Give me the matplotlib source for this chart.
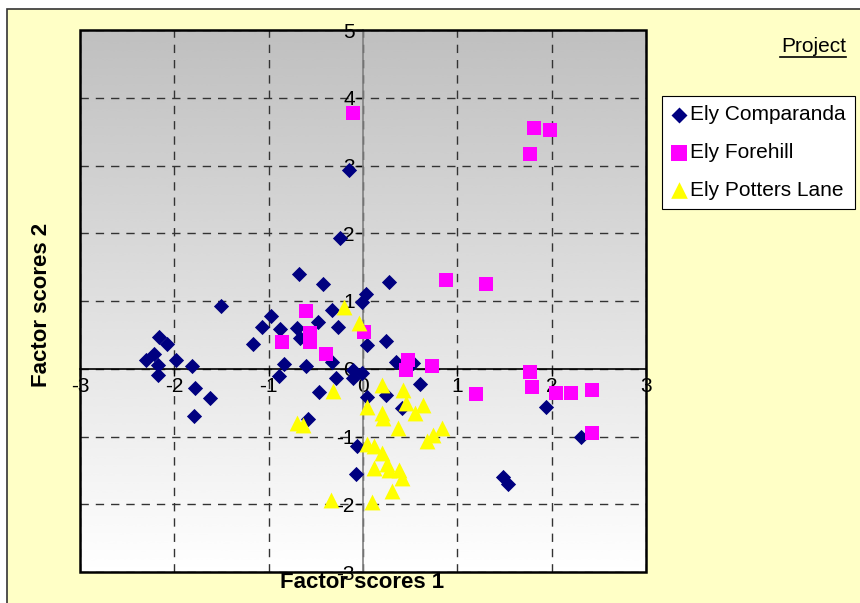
import numpy as np
import matplotlib
matplotlib.use("Agg")
import matplotlib.pyplot as plt
from matplotlib.patches import Rectangle
from matplotlib.lines import Line2D

# factor scores
comp_x = [-0.15, -0.24, -0.68, -0.42, 0.28, 0.03, -0.01, -1.50, -0.97, -1.07,
          -0.88, -0.70, -0.67, -0.48, -0.33, -0.27, -1.17, 0.04, 0.24, -2.16,
          -2.08, -2.22, -2.30, -1.98, -1.81, -2.17, -2.17, -0.84, -0.60, -0.89,
          -0.33, -0.11, -0.01, -0.11, -0.29, -1.78, -1.62, -1.79, -0.47, -0.58,
          0.04, 0.24, 0.41, 0.60, 0.35, 0.53, -0.06, -0.07, 1.48, 1.54,
          1.94, 2.31]
comp_y = [2.93, 1.93, 1.40, 1.25, 1.28, 1.10, 0.98, 0.92, 0.78, 0.62,
          0.59, 0.60, 0.45, 0.69, 0.87, 0.62, 0.37, 0.35, 0.41, 0.47,
          0.37, 0.22, 0.13, 0.13, 0.04, 0.06, -0.09, 0.07, 0.04, -0.11,
          0.10, -0.02, -0.06, -0.13, -0.13, -0.28, -0.43, -0.70, -0.34, -0.74,
          -0.42, -0.39, -0.58, -0.23, 0.10, 0.09, -1.14, -1.55, -1.60, -1.70,
          -0.56, -1.00]

fore_x = [-0.11, 1.81, 1.98, 1.77, 0.88, 1.30, -0.60, -0.56, -0.56, -0.86,
          -0.39, 0.01, 0.48, 0.46, 0.73, 1.20, 1.77, 1.79, 2.05, 2.20,
          2.43, 2.43]
fore_y = [3.77, 3.55, 3.53, 3.17, 1.31, 1.25, 0.85, 0.53, 0.40, 0.40,
          0.22, 0.54, 0.13, -0.02, 0.04, -0.37, -0.05, -0.27, -0.36, -0.36,
          -0.31, -0.95]

pott_x = [-0.20, -0.04, -0.32, 0.20, 0.42, 0.04, 0.20, 0.21, 0.46, 0.64,
          0.55, 0.37, -0.70, -0.64, 0.84, 0.74, 0.68, 0.04, 0.12, 0.20,
          0.25, 0.12, 0.28, 0.38, 0.41, 0.31, -0.34, 0.10]
pott_y = [0.91, 0.68, -0.33, -0.24, -0.31, -0.56, -0.65, -0.73, -0.51, -0.54,
          -0.65, -0.87, -0.80, -0.83, -0.87, -0.98, -1.07, -1.11, -1.14, -1.25,
          -1.40, -1.47, -1.49, -1.50, -1.61, -1.80, -1.94, -1.97]

x_ticks = [-3, -2, -1, 0, 1, 2, 3]
y_ticks = [-3, -2, -1, 0, 1, 2, 3, 4, 5]

plt.rcParams['font.family'] = ['Liberation Sans', 'DejaVu Sans']
plt.rcParams['axes.unicode_minus'] = False

fig = plt.figure(figsize=(8.6, 6.03), dpi=100)
fig.patch.set_facecolor('white')
# yellow chart area with dark border
fig.add_artist(Rectangle((7 / 860, -0.05), 1.0, 1 - 9 / 603 + 0.05,
                         transform=fig.transFigure, facecolor='#FFFFC6',
                         edgecolor='#333333', lw=1.2, zorder=0))

ax = fig.add_axes([80 / 860, 1 - 572 / 603, 566 / 860, 542 / 603])

# gray (top) to white (bottom) gradient in plot area
grad = np.linspace(0.75, 1.0, 256).reshape(-1, 1)
ax.imshow(grad, cmap='gray', vmin=0, vmax=1, aspect='auto', origin='upper',
          extent=[-3, 3, -3, 5], zorder=0, interpolation='bicubic')
ax.set_xlim(-3, 3)
ax.set_ylim(-3, 5)

ax.scatter(comp_x, comp_y, marker='D', s=60, color='#000080', lw=0,
           zorder=3, label='Ely Comparanda')
ax.scatter(fore_x, fore_y, marker='s', s=110, color='#FF00FF', lw=0,
           zorder=4, label='Ely Forehill')
ax.scatter(pott_x, pott_y, marker='^', s=130, color='#FFFF00', lw=0,
           zorder=5, label='Ely Potters Lane')

ax.set_xticks(x_ticks)
ax.set_yticks(y_ticks)
ax.grid(True, linestyle=(0, (6, 5)), color='#333333', lw=1, zorder=1)
ax.set_axisbelow(True)

ax.spines['left'].set_position(('data', 0))
ax.spines['bottom'].set_position(('data', 0))
ax.spines['left'].set_color('#808080')
ax.spines['bottom'].set_color('black')
ax.spines['left'].set_linewidth(1.2)
ax.spines['bottom'].set_linewidth(1.2)
ax.spines['top'].set_visible(False)
ax.spines['right'].set_visible(False)
ax.add_patch(Rectangle((0, 0), 1, 1, transform=ax.transAxes, fill=False,
                       edgecolor='black', lw=1.8, zorder=6, clip_on=False))
ax.tick_params(direction='out', length=5, width=1, labelsize=15, pad=1)

fig.text(362 / 860, 1 - 582 / 603, 'Factor scores 1', ha='center', va='center',
         fontsize=16, fontweight='bold')
fig.text(42 / 860, 1 - 305 / 603, 'Factor scores 2', ha='center', va='center',
         fontsize=16, fontweight='bold', rotation=90)

fig.text(846 / 860, 1 - 46 / 603, 'Project', ha='right', va='center', fontsize=15)
fig.add_artist(Line2D([780 / 860, 846 / 860], [1 - 57 / 603, 1 - 57 / 603],
                      transform=fig.transFigure, color='black', lw=1.2))

leg = fig.legend(loc='upper left', bbox_to_anchor=(662 / 860, 1 - 96 / 603),
                 frameon=True, fancybox=False, edgecolor='black', fontsize=15,
                 handletextpad=0.2, borderpad=0.45, labelspacing=0.9,
                 handlelength=0.7, borderaxespad=0, framealpha=1,
                 markerscale=1.05)
leg.get_frame().set_linewidth(0.8)

fig.savefig('out.png', dpi=100)
